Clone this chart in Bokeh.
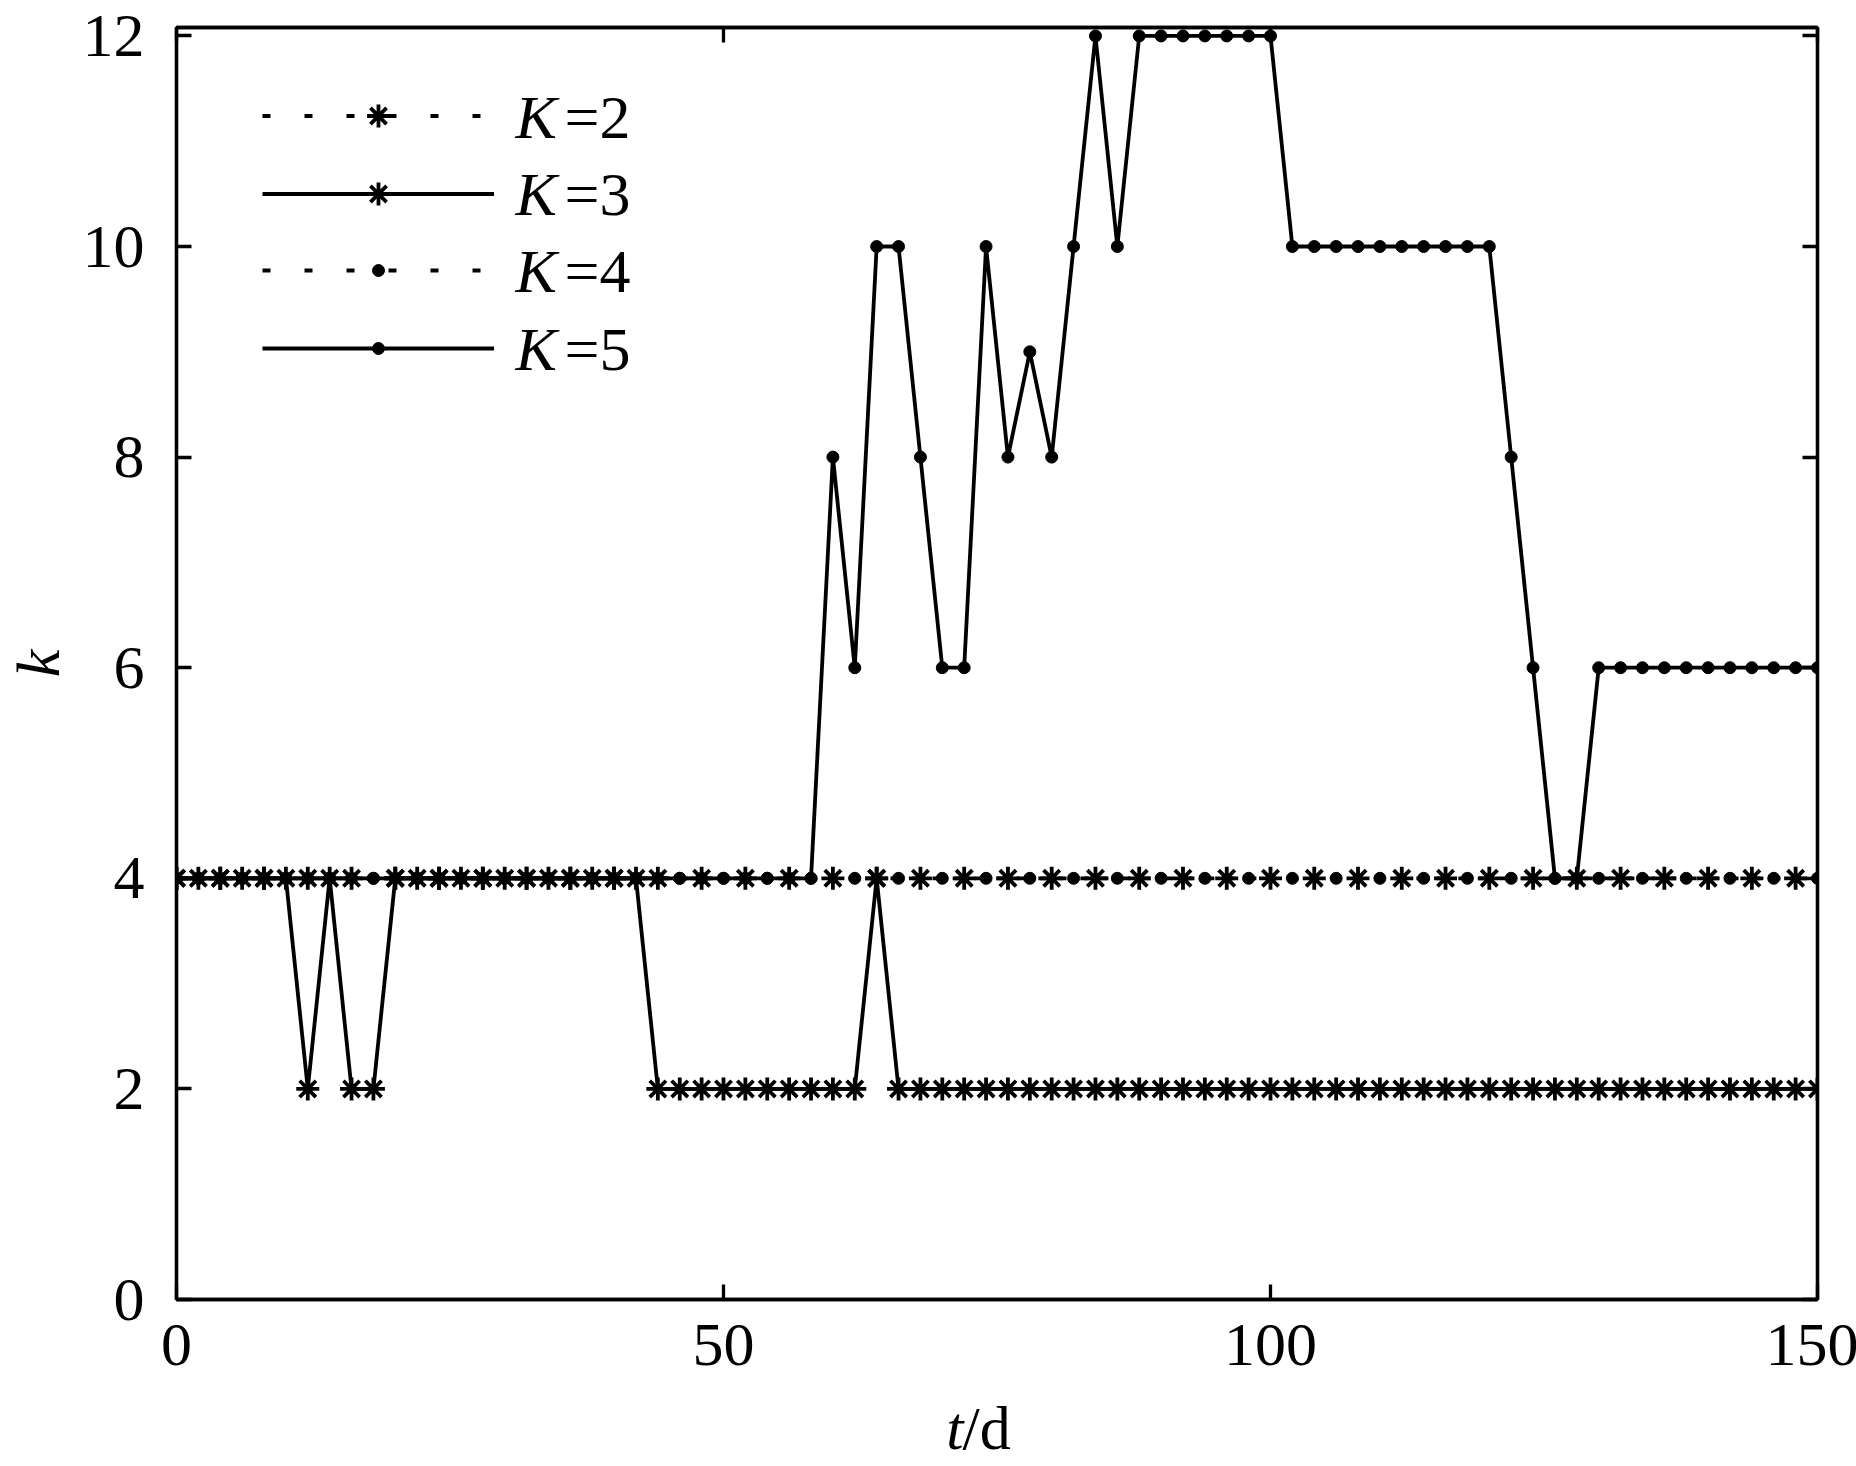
from bokeh.plotting import figure
from bokeh.layouts import column
from bokeh.models import (Range1d, FixedTicker, LinearAxis, Legend, LegendItem, Label,
                          CustomLabelingPolicy)
from bokeh.embed import file_html
from bokeh.resources import INLINE

# ---------------- data ----------------
t_all = list(range(0, 151, 2))          # days sampled every 2 d (K=3, K=5)
t_k2 = list(range(0, 149, 4))           # K=2 markers
t_k4 = list(range(2, 151, 4))           # K=4 markers

k2 = [4, 4, 4, 4, 4, 4, 4, 4, 4, 4, 4, 4, 4, 4, 4, 4, 4, 4, 4,
      4, 4, 4, 4, 4, 4, 4, 4, 4, 4, 4, 4, 4, 4, 4, 4, 4, 4, 4]
k4 = [4, 4, 4, 4, 4, 4, 4, 4, 4, 4, 4, 4, 4, 4, 4, 4, 4, 4, 4,
      4, 4, 4, 4, 4, 4, 4, 4, 4, 4, 4, 4, 4, 4, 4, 4, 4, 4, 4]
k3 = [4, 4, 4, 4, 4, 4, 2, 4, 2, 2,
      4, 4, 4, 4, 4, 4, 4, 4, 4, 4, 4, 4,
      2, 2, 2, 2, 2, 2, 2, 2, 2, 2,
      4,
      2, 2, 2, 2, 2, 2, 2, 2, 2, 2, 2, 2, 2, 2, 2, 2, 2, 2, 2, 2, 2, 2,
      2, 2, 2, 2, 2, 2, 2, 2, 2, 2, 2, 2, 2, 2, 2, 2, 2, 2, 2, 2, 2]
k5 = [4, 4, 4, 4, 4, 4, 4, 4, 4, 4, 4, 4, 4, 4, 4,
      4, 4, 4, 4, 4, 4, 4, 4, 4, 4, 4, 4, 4, 4, 4,
      8, 6, 10, 10, 8, 6, 6, 10, 8, 9, 8, 10, 12, 10,
      12, 12, 12, 12, 12, 12, 12,
      10, 10, 10, 10, 10, 10, 10, 10, 10, 10,
      8, 6, 4, 4,
      6, 6, 6, 6, 6, 6, 6, 6, 6, 6, 6]

x_ticks = [0, 50, 100, 150]
y_ticks = [0, 2, 4, 6, 8, 10, 12]
legend_labels = ["=2", "=3", "=4", "=5"]

# ---------------- styling ----------------
FONT = "Liberation Serif"
FS = "62px"
LW = 3.8
AX_LW = 3.3
DOT = "8 34"
BASE_FIX = 24          # compensation for label baseline placement

FRAME_LEFT = 174
FRAME_TOP = 27
FRAME_W = 1641
FRAME_H = 1272
FRAME_BOTTOM = FRAME_TOP + FRAME_H
W = 1856
RIGHT_B = W - FRAME_LEFT - FRAME_W
H1 = 1392
H2 = 74


def rx(px):
    return px - FRAME_LEFT


def ry(py):
    return FRAME_BOTTOM - py


p = figure(frame_width=FRAME_W, frame_height=FRAME_H,
           x_range=Range1d(0, 150), y_range=Range1d(0, 12.08),
           output_backend="svg", toolbar_location=None,
           min_border_left=FRAME_LEFT, min_border_right=RIGHT_B,
           min_border_top=FRAME_TOP, min_border_bottom=H1 - FRAME_BOTTOM)
p.xgrid.visible = False
p.ygrid.visible = False
p.outline_line_color = "black"
p.outline_line_width = AX_LW
p.background_fill_color = "white"
p.border_fill_color = "white"

p.add_layout(LinearAxis(), "above")
p.add_layout(LinearAxis(), "right")

for ax in p.xaxis:
    ax.ticker = FixedTicker(ticks=x_ticks)
for ax in p.yaxis:
    ax.ticker = FixedTicker(ticks=y_ticks)

for ax in list(p.xaxis) + list(p.yaxis):
    ax.axis_line_width = AX_LW
    ax.axis_line_color = "black"
    ax.major_tick_in = 15
    ax.major_tick_out = 0
    ax.major_tick_line_width = AX_LW
    ax.major_tick_line_color = "black"
    ax.minor_tick_line_color = None
    ax.major_label_text_font = FONT
    ax.major_label_text_font_size = FS
    ax.major_label_text_color = "black"

p.below[0].major_label_standoff = 25
p.left[0].major_label_standoff = 32
p.left[0].axis_label = "k"
p.left[0].axis_label_text_font = FONT
p.left[0].axis_label_text_font_style = "italic"
p.left[0].axis_label_text_font_size = FS
p.left[0].axis_label_text_color = "black"
p.left[0].axis_label_standoff = 8

for ax in (p.above[0], p.right[0]):
    ax.major_label_policy = CustomLabelingPolicy(code="return new Set()")
    ax.major_label_text_font_size = "0px"
    ax.major_label_standoff = 0

# ---------------- series ----------------
l2 = p.line(t_k2, k2, line_color="black", line_width=LW, line_dash=DOT)
s2 = p.scatter(t_k2, k2, marker="asterisk", size=23, line_color="black", line_width=3.8)
l3 = p.line(t_all, k3, line_color="black", line_width=LW)
s3 = p.scatter(t_all, k3, marker="asterisk", size=23, line_color="black", line_width=3.8)
l4 = p.line(t_k4, k4, line_color="black", line_width=LW, line_dash=DOT)
s4 = p.scatter(t_k4, k4, marker="circle", size=12, fill_color="black", line_color="black")
l5 = p.line(t_all, k5, line_color="black", line_width=LW)
s5 = p.scatter(t_all, k5, marker="circle", size=12, fill_color="black", line_color="black")

# ---------------- legend (one row per Legend) ----------------
row_line_y = [115, 193.3, 270, 347.7]
row_base_y = [140, 217, 294, 372]
glyph_h = [57, 57, 30, 30]
pairs = [(l2, s2), (l3, s3), (l4, s4), (l5, s5)]
for i, (lr, sr) in enumerate(pairs):
    leg = Legend(items=[LegendItem(label=" ", renderers=[lr, sr])],
                 location=(rx(260), ry(row_line_y[i]) - glyph_h[i] / 2),
                 orientation="vertical", padding=0, margin=0, spacing=0,
                 glyph_width=232, glyph_height=glyph_h[i],
                 label_standoff=0, label_width=0, label_height=0,
                 label_text_font_size="1px",
                 border_line_alpha=0, background_fill_alpha=0)
    p.add_layout(leg)
    p.add_layout(Label(x=rx(513), y=ry(row_base_y[i]) + BASE_FIX,
                       x_units="screen", y_units="screen",
                       text="K", text_font=FONT, text_font_style="italic",
                       text_font_size=FS, text_color="black",
                       text_align="left", text_baseline="alphabetic"))
    p.add_layout(Label(x=rx(562), y=ry(row_base_y[i]) + BASE_FIX,
                       x_units="screen", y_units="screen",
                       text=legend_labels[i], text_font=FONT,
                       text_font_size=FS, text_color="black",
                       text_align="left", text_baseline="alphabetic"))

# ---------------- x axis title strip ----------------
p2 = figure(frame_width=FRAME_W, frame_height=H2,
            x_range=Range1d(0, 1), y_range=Range1d(0, 1),
            output_backend="svg", toolbar_location=None,
            x_axis_location=None, y_axis_location=None,
            min_border_left=FRAME_LEFT, min_border_right=RIGHT_B,
            min_border_top=0, min_border_bottom=0)
p2.xgrid.visible = False
p2.ygrid.visible = False
p2.outline_line_color = None
p2.background_fill_color = "white"
p2.border_fill_color = "white"

XL_BASE = 1451 - H1          # baseline measured from top of strip
p2.add_layout(Label(x=rx(961), y=H2 - XL_BASE + BASE_FIX, x_units="screen", y_units="screen",
                    text="t", text_font=FONT, text_font_style="italic",
                    text_font_size=FS, text_color="black",
                    text_align="right", text_baseline="alphabetic"))
p2.add_layout(Label(x=rx(960), y=H2 - XL_BASE + BASE_FIX, x_units="screen", y_units="screen",
                    text="/d", text_font=FONT,
                    text_font_size=FS, text_color="black",
                    text_align="left", text_baseline="alphabetic"))

layout = column(p, p2, spacing=0)
open("out.html", "w").write(file_html(layout, INLINE))
